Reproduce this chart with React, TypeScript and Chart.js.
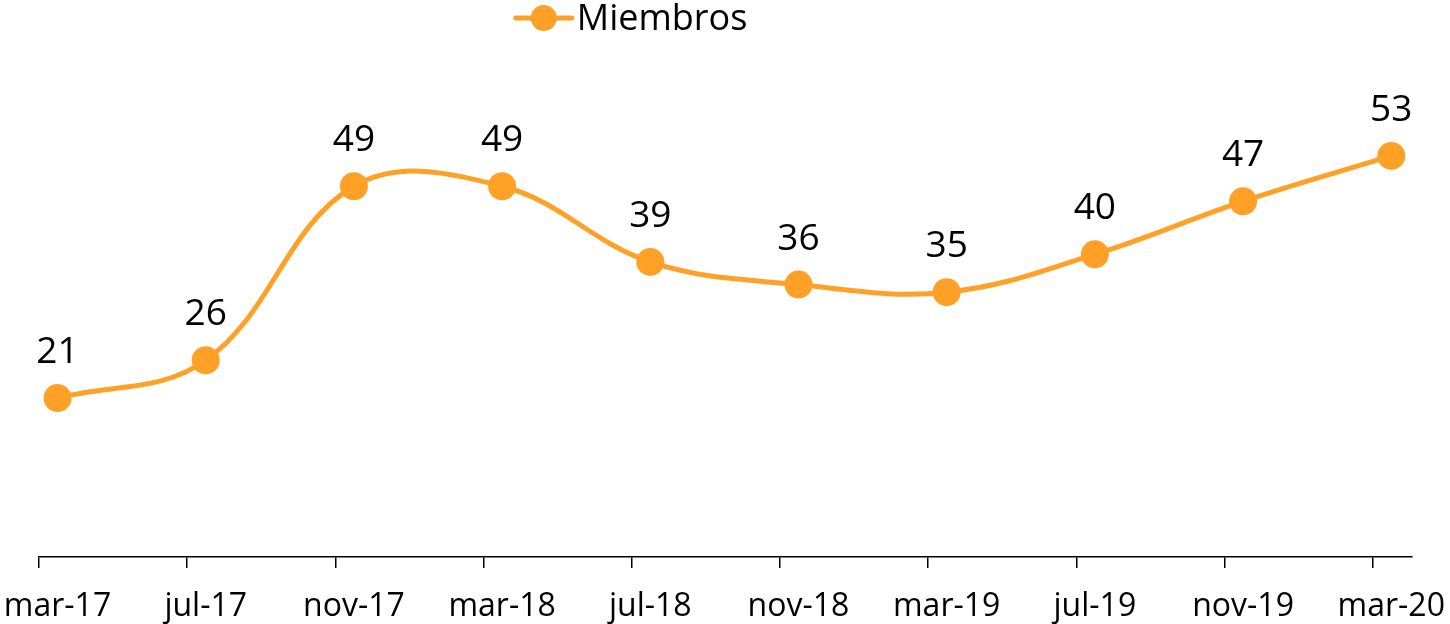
import React, { useEffect, useRef } from "react";
import { Chart, registerables } from "chart.js";

Chart.register(...registerables);

const categories = ["mar-17", "jul-17", "nov-17", "mar-18", "jul-18", "nov-18", "mar-19", "jul-19", "nov-19", "mar-20"];
const miembros = [21, 26, 49, 49, 39, 36, 35, 40, 47, 53];
const seriesLabel = "Miembros";

const ORANGE = "#FFA126";
const FONT = "'Open Sans', Lato, sans-serif";
const TICK_SHIFT = 0.125;

const dataLabelPlugin = {
  id: "dataLabels",
  afterDatasetsDraw(chart: any) {
    const ctx = chart.ctx;
    const meta = chart.getDatasetMeta(0);
    ctx.save();
    ctx.font = `37px ${FONT}`;
    ctx.fillStyle = "#000";
    ctx.textAlign = "center";
    ctx.textBaseline = "alphabetic";
    meta.data.forEach((pt: any, i: number) => {
      ctx.fillText(String(miembros[i]), pt.x, pt.y - 35);
    });
    ctx.restore();
  },
};

const legendPlugin = {
  id: "customLegend",
  afterDraw(chart: any) {
    const ctx = chart.ctx;
    const ds = chart.data.datasets[0];
    const cx = chart.width * 0.375;
    const cy = 18;
    ctx.save();
    ctx.strokeStyle = ds.borderColor;
    ctx.lineWidth = 5;
    ctx.lineCap = "round";
    ctx.beginPath();
    ctx.moveTo(cx - 28, cy);
    ctx.lineTo(cx + 28, cy);
    ctx.stroke();
    ctx.fillStyle = ds.pointBackgroundColor;
    ctx.beginPath();
    ctx.arc(cx, cy, 13, 0, Math.PI * 2);
    ctx.fill();
    ctx.font = `36px ${FONT}`;
    ctx.fillStyle = "#000";
    ctx.textAlign = "left";
    ctx.textBaseline = "alphabetic";
    ctx.fillText(ds.label, cx + 33, 30);
    ctx.restore();
  },
};

export default function App() {
  const ref = useRef<HTMLCanvasElement | null>(null);

  useEffect(() => {
    document.body.style.margin = "0";
    if (!ref.current) return;
    const n = categories.length;
    const chart = new Chart(ref.current, {
      type: "line",
      data: {
        datasets: [
          {
            label: seriesLabel,
            data: miembros.map((v, i) => ({ x: i, y: v })) as any,
            borderColor: ORANGE,
            backgroundColor: ORANGE,
            pointBackgroundColor: ORANGE,
            pointBorderColor: ORANGE,
            pointBorderWidth: 0,
            pointRadius: 14,
            borderWidth: 5,
            tension: 0.38,
            fill: false,
          },
        ],
      },
      options: {
        responsive: false,
        animation: false,
        events: [],
        layout: { padding: { left: 39, right: 38, top: 103, bottom: 0 } },
        plugins: {
          legend: { display: false },
          tooltip: { enabled: false },
        },
        scales: {
          xt: {
            type: "linear",
            position: "bottom",
            weight: 0,
            min: -TICK_SHIFT,
            max: n - 1 + 0.14,
            afterBuildTicks(scale: any) {
              scale.ticks = categories.map((_, i) => ({ value: i - TICK_SHIFT }));
            },
            afterFit(scale: any) {
              scale.height = 11;
              scale.paddingLeft = 0;
              scale.paddingRight = 0;
            },
            ticks: { display: false },
            grid: {
              display: true,
              drawOnChartArea: false,
              drawTicks: true,
              tickLength: 11,
              color: "#000",
              lineWidth: 1.5,
            },
            border: { display: true, color: "#000", width: 1.5 },
          },
          x: {
            type: "linear",
            position: "bottom",
            weight: 1,
            min: -TICK_SHIFT,
            max: n - 1 + 0.14,
            afterBuildTicks(scale: any) {
              scale.ticks = categories.map((_, i) => ({ value: i }));
            },
            afterFit(scale: any) {
              scale.height = 56;
              scale.paddingLeft = 0;
              scale.paddingRight = 0;
            },
            ticks: {
              padding: 20,
              maxRotation: 0,
              minRotation: 0,
              autoSkip: false,
              color: "#000",
              font: { family: FONT, size: 32 },
              callback: (v: any) => categories[Math.round(Number(v))] ?? "",
            },
            grid: { display: false, drawTicks: false },
            border: { display: false },
          },
          y: {
            display: false,
            min: 0,
            max: 60,
          },
        },
      } as any,
      plugins: [dataLabelPlugin, legendPlugin],
    });
    return () => chart.destroy();
  }, []);

  return (
    <div style={{ width: 1450, height: 624 }}>
      <canvas ref={ref} width={1450} height={624} />
    </div>
  );
}
